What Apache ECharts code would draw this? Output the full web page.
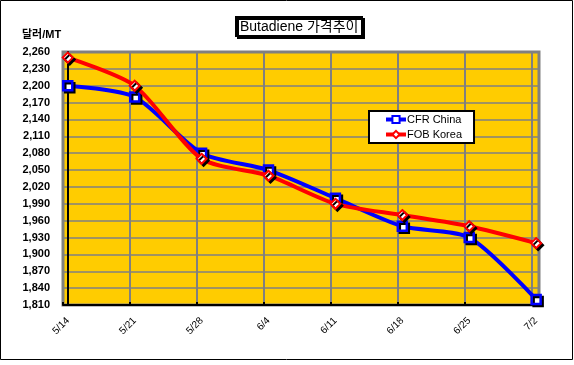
<!DOCTYPE html>
<html><head><meta charset="utf-8">
<script src="https://cdn.jsdelivr.net/npm/echarts@6/dist/echarts.min.js"></script>
<style>html,body{margin:0;padding:0;background:#fff}#c{width:574px;height:365px}</style>
</head><body><div id="c"></div>
<script>
const categories = ['5/14','5/21','5/28','6/4','6/11','6/18','6/25','7/2'];
const cfrChina = [2200, 2180, 2080, 2050, 2000, 1950, 1930, 1820];
const fobKorea = [2250, 2200, 2070, 2040, 1990, 1970, 1950, 1920];
const yMin = 1810, yMax = 2260, yStep = 30;
const daysPerCat = 7;

const toPts = arr => arr.map((v, i) => [i * daysPerCat, v]);
const chart = echarts.init(document.getElementById('c'), null, {renderer: 'canvas'});
const font = 'Arial, "Liberation Sans", "Noto Sans CJK KR", sans-serif';
chart.setOption({
  animation: false,
  backgroundColor: '#fff',
  title: {
    text: 'Butadiene 가격추이', left: 236, top: 17,
    padding: [3, 4, 2, 4],
    backgroundColor: '#fff', borderColor: '#000', borderWidth: 2,
    shadowColor: '#000', shadowOffsetX: 2, shadowOffsetY: 2, shadowBlur: 0,
    textStyle: {fontFamily: font, fontSize: 14, fontWeight: 'normal', color: '#000'}
  },
  legend: {
    orient: 'vertical', left: 369, top: 111, padding: [3, 12, 3, 15], itemGap: 4,
    itemWidth: 20, itemHeight: 9,
    backgroundColor: '#fff', borderColor: '#000', borderWidth: 2,
    lineStyle: {width: 4},
    textStyle: {fontFamily: font, fontSize: 11, color: '#000', padding: [0,0,0,-4]},
    data: ['CFR China', 'FOB Korea']
  },
  graphic: [
    {type: 'rect', shape: {x: 0.5, y: 0.5, width: 572, height: 359}, style: {fill: 'none', stroke: '#000', lineWidth: 1}, z: -10},
    {type: 'text', left: 22, top: 29, style: {text: '달러/MT', font: 'bold 11px ' + font, fill: '#000'}}
  ],
  grid: [
    {left: 63, top: 52, right: 35, bottom: 60, show: true, backgroundColor: '#FFCC00', borderColor: '#808080', borderWidth: 3},
    {left: 68, top: 52, right: 38, bottom: 60, show: false}
  ],
  xAxis: [{
    type: 'value', gridIndex: 0, min: -0.5, max: 49.3, interval: 7,
    axisLine: {show: true, onZero: false, lineStyle: {color: '#000', width: 2}},
    axisTick: {show: true, inside: true, length: 3, lineStyle: {color: '#000', width: 2}},
    splitLine: {show: true, lineStyle: {color: '#808080', width: 2}},
    axisLabel: {show: false}
  }, {
    type: 'category', gridIndex: 1, data: categories, boundaryGap: false,
    axisLine: {show: false}, axisTick: {show: false}, splitLine: {show: false},
    axisLabel: {rotate: 45, margin: 14, interval: 0, fontFamily: font, fontSize: 10, color: '#000'}
  }],
  yAxis: [{
    type: 'value', gridIndex: 0, min: yMin, max: yMax, interval: yStep,
    axisLine: {show: true, lineStyle: {color: '#000', width: 2}},
    axisTick: {show: false},
    splitLine: {show: true, lineStyle: {color: '#808080', width: 1.5}},
    axisLabel: {margin: 13, fontFamily: font, fontSize: 11, fontWeight: 'bold', color: '#000',
      formatter: v => v.toLocaleString('en-US')}
  }, {
    type: 'value', gridIndex: 1, min: yMin, max: yMax, show: false
  }],
  series: [
    {
      name: 'CFR China', type: 'line', data: toPts(cfrChina), smooth: 0.25,
      lineStyle: {color: '#0000FF', width: 4},
      symbol: 'rect', symbolSize: 9,
      itemStyle: {color: '#fff', borderColor: '#0000FF', borderWidth: 2.5,
        shadowColor: '#000', shadowOffsetX: 2, shadowOffsetY: 2, shadowBlur: 0},
      z: 3
    },
    {
      name: 'FOB Korea', type: 'line', data: toPts(fobKorea), smooth: 0.25,
      lineStyle: {color: '#FF0000', width: 4},
      symbol: 'diamond', symbolSize: 10,
      itemStyle: {color: '#fff', borderColor: '#FF0000', borderWidth: 2,
        shadowColor: '#000', shadowOffsetX: 2, shadowOffsetY: 2, shadowBlur: 0},
      z: 4
    }
  ]
});
</script></body></html>
